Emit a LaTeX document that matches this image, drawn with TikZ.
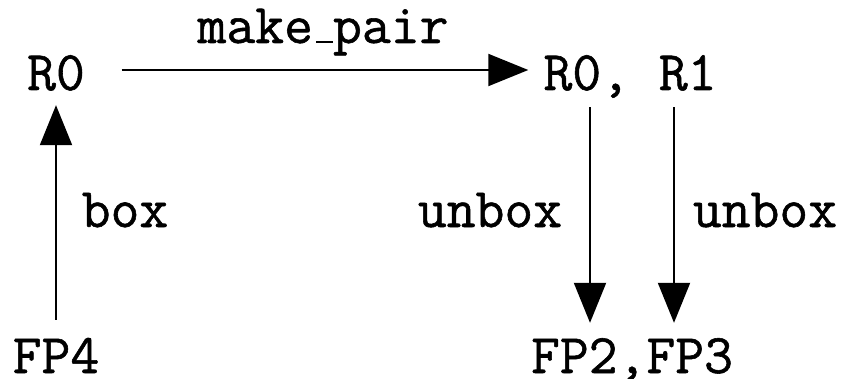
\documentclass[tikz,border=0pt]{standalone}
\usepackage{fontspec}
\usetikzlibrary{arrows.meta}
% typewriter face, slightly heavier strokes
\newfontfamily\diagtt{Latin Modern Mono}[RawFeature={embolden=1}]
% short baseline rule used as underscore
\newcommand\uscore{\kern.06em\vbox{\hrule width .3em height 2.2pt}}
\begin{document}
\begin{tikzpicture}[x=1pt,y=1pt,
  lbl/.style={font=\fontsize{56}{60}\selectfont\diagtt, inner sep=0pt,
              text height=34pt, text depth=0pt, anchor=base},
  arr/.style={line width=2pt, -{Triangle[length=40pt,width=32pt]}}]
  \useasboundingbox (0,0) rectangle (842,378);

  % objects
  \node[lbl] (r0)   at (56,288)  {R0};
  \node[lbl] (r01)  at (630,288) {R0, R1};
  \node[lbl] (fp4)  at (56,5)    {FP4};
  \node[lbl] (fp23) at (632,5)   {FP2,FP3};

  % morphism labels
  \node[lbl] (lmk)  at (323,335) {make\uscore pair};
  \node[lbl] (lbox) at (125,151) {box};
  \node[lbl] (lub1) at (490,151) {unbox};
  \node[lbl] (lub2) at (765,151) {unbox};

  % morphisms
  \draw[arr, shorten <=36.6pt, shorten >=15pt]
    ([yshift=3pt]r0.east) -- ([yshift=3pt]r01.west);
  \draw[arr, shorten <=19pt, shorten >=15pt] (fp4.north) -- (r0.south);
  \draw[arr, shorten <=17pt, shorten >=16pt]
    ([xshift=-40pt]r01.south) -- ([xshift=-42pt]fp23.north);
  \draw[arr, shorten <=17pt, shorten >=16pt]
    ([xshift=44pt]r01.south) -- ([xshift=42pt]fp23.north);
\end{tikzpicture}
\end{document}
